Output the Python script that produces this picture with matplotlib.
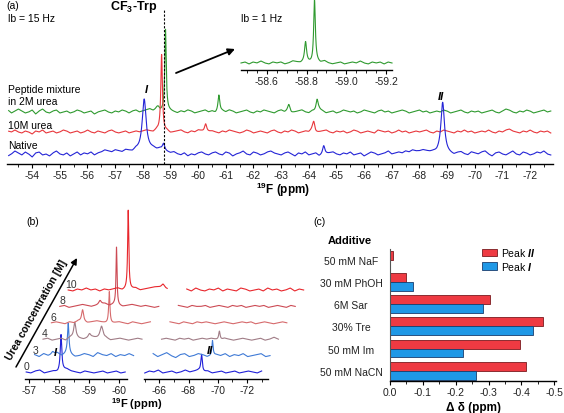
import numpy as np
import matplotlib
matplotlib.use('Agg')
import matplotlib.pyplot as plt
import matplotlib.transforms as mtransforms
from matplotlib.ticker import MultipleLocator

plt.rcParams['font.family'] = ['Liberation Sans', 'DejaVu Sans']
plt.rcParams['mathtext.fontset'] = 'custom'
plt.rcParams['mathtext.rm'] = 'Liberation Sans'
plt.rcParams['mathtext.bf'] = 'Liberation Sans:bold'
plt.rcParams['mathtext.it'] = 'Liberation Sans:italic:bold'
plt.rcParams['axes.unicode_minus'] = False

# ---------------- data: panel (a) ----------------
# baseline noise sampled every 0.125 ppm from -53.0 to -73.0 ppm
green_noise = [0, 2, -1, 1, 3, 1, -1, 0, 2, -2, 1, 3, 0, -1, 1, 2, -1, 0, 1, -1,
               0, 2, 1, -1, 0, 1, -2, 0, 1, 2, 0, -1, 1, 0, 2, 1, -1, 1, 2, 0,
               1, 2, 3, 1, 2, 0, 1, 2, 1, 0, -1, 1, 0, 2, 1, -1, 0, 1, 2, 0,
               1, -1, 0, 1, 0, 2, 1, -1, 0, 1, 2, 0, -1, 1, 0, 2, 1, 0, -1, 1,
               2, 0, 1, -1, 0, 1, 2, 0, -1, 1, 0, 2, 1, -1, 0, 1, -1, 0, 2, 1,
               0, 1, -1, 0, 2, 1, 0, -1, 1, 2, 0, 1, -1, 0, 1, 2, 1, -1, 0, 1,
               2, 0, 1, -1, 0, 1, 0, 2, 1, -1, 0, 1, 2, 0, -1, 1, 0, 1, -1, 0,
               1, 2, 0, -1, 1, 3, 2, 0, -1, 1, 0, 2, 1, -1, 0, 1, 2, 0, 1, -1,
               0]
red_noise = [-1, 1, 0, 2, 0, -1, 1, 0, -2, 1, 0, 2, -1, 0, 1, -1, 0, 2, 1, -1,
             0, 1, -1, 0, 2, 0, -1, 1, 0, -1, 1, 2, 0, -1, 0, 1, -1, 0, 1, 0,
             1, 2, 1, 0, 2, 1, 0, 1, -1, 0, 1, 2, 0, -1, 1, 0, 2, 1, -1, 0,
             1, 0, -1, 1, 0, 2, 1, 0, -1, 0, 2, 1, -1, 0, 1, 0, -1, 1, 2, 0,
             -1, 1, 0, 2, 1, -1, 0, 1, 0, 2, -1, 0, 1, 2, 0, -1, 1, 0, 1, -1,
             0, 2, 1, -1, 0, 1, 0, -1, 2, 1, 0, 1, -1, 0, 2, 0, 1, -1, 0, 1,
             0, 1, 2, 0, -1, 1, 0, 2, 1, 0, -1, 1, 0, 2, 0, 1, -1, 0, 1, 0,
             2, 0, -1, 1, 0, 2, 3, 1, 0, -1, 1, 0, 2, 0, -1, 1, 0, 1, -1, 0,
             0]
blue_noise = [1, -2, 0, 3, 1, -1, 2, 0, -3, 1, 2, -1, 0, -2, 1, 3, 0, -1, 1, -2,
              0, 2, -1, 1, 0, 2, -1, 1, 2, 4, 3, 2, 4, 3, 2, 4, 3, 2, 4, 3,
              3, 3, 4, 5, 4, 5, 3, 2, 1, 2, 0, -1, 1, -2, 0, -1, 1, 2, 0, -1,
              1, 2, 0, -1, 2, 1, -2, 0, 1, 3, 0, -1, 2, 1, -1, 0, 2, 3, 1, 0,
              -1, 1, 2, 0, -2, 1, 0, 2, -1, 0, 1, -2, -1, 0, 1, 2, 0, -1, 1, 0,
              2, -1, 0, 1, -2, 0, 2, 1, -1, 0, 1, 3, 0, 1, 2, 1, 3, 2, 4, 3,
              3, 4, 3, 2, 2, 1, 2, 3, 1, 0, -1, 1, 2, 0, -1, 2, 1, 0, 2, 3,
              0, -2, 1, 2, 0, -1, 1, 3, 0, -1, 2, 1, -1, 0, 2, 1, 3, 0, -1, 1,
              0]
# peaks: (ppm, height, fwhm)
green_peaks = [(-58.82, 81, 0.06), (-58.55, 4, 0.15), (-60.75, 17, 0.08),
               (-63.28, 7, 0.1), (-64.3, 12, 0.1)]
red_peaks = [(-58.68, 77, 0.07), (-60.27, 9, 0.1), (-64.18, 10, 0.1)]
blue_peaks = [(-58.05, 52, 0.17), (-58.75, 7, 0.1), (-64.54, 9, 0.1),
              (-68.84, 49, 0.15)]

# inset (lb = 1 Hz), noise every 0.02 ppm from -58.47 to -59.23
inset_noise = [0, 1, -1, 1, 0, 2, 0, -1, 1, 0, 1, -1, 0, 2, 1, 0, 1, 0, -1, 1,
               0, 2, 0, -1, 0, 1, -1, 0, 1, 0, 2, 0, -1, 1, 0, 1, -1, 1, 0]
inset_peaks = [(-58.795, 20, 0.012), (-58.84, 63, 0.01)]

# ---------------- data: panel (b) ----------------
conc_labels = ['0', '3', '4', '6', '8', '10']
# left segment noise (-56.9 .. -60.2 ppm), right segment noise (-65 .. -73 ppm)
t0_left = [0, -1, 1, 2, -1, 0, 1, 0, 2, 3, 1, 0, -1, 1, 0, -1, 0, 1, -1, 0, 1, -1, 0]
t0_right = [-1, 1, 0, 2, -1, 0, 1, -1, 0, 2, 0, 1, 2, 0, 1, -1, 0, 1, -1, 0, 1, -1, 0, 1, 0, -1, 1]
t3_left = [1, -1, 2, 0, 1, 3, 0, 2, 1, -1, 0, 2, 1, -1, 3, 1, 0, 2, -1, 1, 0, 2, 0]
t3_right = [2, -1, 1, 3, 0, -2, 1, 2, -1, 0, 2, 1, -1, 0, 1, 0, 2, -1, 1, 0, 2, -1, 0, 1, 2, -1, 0]
t4_left = [0, 1, -1, 0, 1, -1, 2, 3, 1, 0, 1, 2, 1, 0, 1, -1, 0, 1, 0, -1, 0, 1, 0]
t4_right = [0, 1, 0, -1, 1, 0, 1, -1, 0, 1, 0, 1, 0, -1, 1, 0, -1, 0, 1, 0, -1, 0, 1, -1, 0, 2, 0]
t6_left = [0, 1, 0, -1, 1, 0, 2, 1, 0, 1, 2, 1, 0, -1, 0, 1, 0, -1, 1, 0, -1, 0, 1]
t6_right = [1, 0, -1, 1, 0, -1, 1, 0, 1, 0, -1, 0, 1, 0, -1, 0, 1, 0, 1, -1, 0, 1, 0, -1, 0, 1, 0]
t8_left = [0, 1, -1, 0, 1, 2, 1, 0, 1, 2, 3, 1, 2, 1, 0, 1, 2, 1, 0, 1, 0, -1, 0]
t8_right = [1, 0, -1, 1, 0, 0, 1, -1, 0, 1, 0, -1, 1, 0, 1, -1, 0, 1, 0, 1, -1, 0, 1, 0, -1, 1, 0]
t10_left = [0, -1, 1, 0, 2, 0, 1, -1, 1, 0, 1, 2, 0, 1, 1, 2, 0, 1, 2, 3, 3, 2, 1]
t10_right = [1, -1, 2, 0, -1, 1, 0, 2, -1, 1, 0, -1, 2, 1, -1, 0, 1, -1, 2, 0, 1, -1, 0, 2, -1, 1, 0]
t0_lp = [(-58.06, 36, 0.06)]
t0_rp = [(-68.89, 17, 0.12)]
t3_lp = [(-58.02, 31, 0.06), (-57.5, 3, 0.1)]
t3_rp = [(-69.06, 15, 0.1)]
t4_lp = [(-57.96, 14, 0.08), (-58.85, 13, 0.12), (-58.45, 4, 0.1)]
t4_rp = [(-68.96, 9, 0.12)]
t6_lp = [(-57.94, 12, 0.08), (-58.83, 32, 0.05)]
t6_rp = []
t8_lp = [(-58.24, 4, 0.1), (-58.79, 58, 0.04)]
t8_rp = []
t10_lp = [(-58.9, 79, 0.045), (-60.06, 4, 0.12)]
t10_rp = []

# ---------------- data: panel (c) ----------------
additives = ['50 mM NaF', '30 mM PhOH', '6M Sar', '30% Tre', '50 mM Im', '50 mM NaCN']
peak_II = [-0.008, -0.049, -0.303, -0.465, -0.394, -0.413]
peak_I = [0.0, -0.069, -0.283, -0.435, -0.222, -0.262]

# ---------------- helpers ----------------
W, H = 564, 414
fig = plt.figure(figsize=(W / 100, H / 100), dpi=100)


def rect(x0, y0, x1, y1):
    return [x0 / W, 1 - y1 / H, (x1 - x0) / W, (y1 - y0) / H]


def ftext(x, y, s, **kw):
    kw.setdefault('va', 'center')
    kw.setdefault('fontsize', 7.5)
    return fig.text(x / W, 1 - y / H, s, **kw)


def spectrum(start, end, noise, peaks, n=1500):
    coarse = np.linspace(start, end, len(noise))
    fine = np.linspace(start, end, n)
    y = np.interp(-fine, -coarse, np.asarray(noise, float))
    for p, h, w in peaks:
        g = (w / 2) ** 2
        y = y + h * g / ((fine - p) ** 2 + g)
    return fine, y


def style_axis(ax):
    for s in ['top', 'right', 'left']:
        ax.spines[s].set_visible(False)
    ax.spines['bottom'].set_linewidth(1.0)
    ax.set_yticks([])
    ax.tick_params(axis='x', which='major', length=3, width=0.8, pad=1.5,
                   labelsize=7.5, labelcolor='#222222')
    ax.tick_params(axis='x', which='minor', length=2, width=0.6)
    ax.patch.set_visible(False)


lw = 0.8
GREEN, RED, BLUE = '#2f9a2f', '#e8373c', '#2424d6'

# ---------------- panel (a) ----------------
axA = fig.add_axes(rect(7, 25, 553, 165))
axA.set_xlim(-53.09, -72.83)
axA.set_ylim(0, 140)
style_axis(axA)
ticks = list(range(-54, -73, -1))
axA.set_xticks(ticks, [str(t) for t in ticks])
axA.xaxis.set_minor_locator(MultipleLocator(0.5))
for noise, peaks, base, col in [(green_noise, green_peaks, 52, GREEN),
                                (red_noise, red_peaks, 32, RED),
                                (blue_noise, blue_peaks, 10, BLUE)]:
    x, y = spectrum(-53.0, -73.0, noise, peaks, n=6000)
    m = (x <= -53.15) & (x >= -72.75)
    axA.plot(x[m], y[m] + base, color=col, lw=lw, clip_on=False)
axA.plot([-58.75, -58.75], [0, 155], ls=(0, (2, 1.5)), color='k', lw=0.8,
         clip_on=False)

ftext(13, 6, '(a)', ha='center')
ftext(8, 19, 'lb = 15 Hz', ha='left')
ftext(134, 7, r'CF$_\mathbf{3}$-Trp', ha='center', fontweight='bold', fontsize=9)
ftext(241, 19, 'lb = 1 Hz', ha='left')
ftext(8, 90, 'Peptide mixture', ha='left')
ftext(8, 102, 'in 2M urea', ha='left')
ftext(8, 126, '10M urea', ha='left')
ftext(8, 146, 'Native', ha='left')
ftext(146, 90, 'I', ha='center', fontweight='bold', fontstyle='italic', fontsize=8)
ftext(441, 97, 'II', ha='center', fontweight='bold', fontstyle='italic', fontsize=8)
ftext(283, 190, r'$^\mathbf{19}$F (ppm)', ha='center', fontweight='bold', fontsize=8.5)

axA.annotate('', xy=(235 / W, 1 - 50 / H), xytext=(176 / W, 1 - 74 / H),
             xycoords='figure fraction', textcoords='figure fraction',
             arrowprops=dict(arrowstyle='-|>', color='k', lw=1.3,
                             mutation_scale=10, shrinkA=0, shrinkB=0),
             annotation_clip=False)

# inset
axI = fig.add_axes(rect(241, 0, 392, 71))
axI.set_xlim(-58.47, -59.23)
axI.set_ylim(0, 71)
style_axis(axI)
axI.set_xticks([-58.6, -58.8, -59.0, -59.2], ['-58.6', '-58.8', '-59.0', '-59.2'])
axI.xaxis.set_minor_locator(MultipleLocator(0.05))
x, y = spectrum(-58.47, -59.23, inset_noise, inset_peaks, n=3000)
axI.plot(x, y + 7, color=GREEN, lw=lw, clip_on=False)

# ---------------- panel (b) ----------------
axBL = fig.add_axes(rect(25, 200, 127, 380))
axBR = fig.add_axes(rect(144, 200, 267.5, 380))
axBL.set_xlim(-56.86, -60.26)
axBR.set_xlim(-64.95, -73.4)
for ax in (axBL, axBR):
    ax.set_ylim(0, 180)
    style_axis(ax)
axBL.set_xticks([-57, -58, -59, -60], ['-57', '-58', '-59', '-60'])
axBL.xaxis.set_minor_locator(MultipleLocator(0.5))
axBR.set_xticks([-66, -68, -70, -72], ['-66', '-68', '-70', '-72'])
axBR.xaxis.set_minor_locator(MultipleLocator(1))

b_colors = ['#2020d8', '#3f7ad6', '#a07c86', '#d66a6c', '#cc4a54', '#e8262c']
lefts = [t0_left, t3_left, t4_left, t6_left, t8_left, t10_left]
rights = [t0_right, t3_right, t4_right, t6_right, t8_right, t10_right]
lpeaks = [t0_lp, t3_lp, t4_lp, t6_lp, t8_lp, t10_lp]
rpeaks = [t0_rp, t3_rp, t4_rp, t6_rp, t8_rp, t10_rp]
for k in range(len(conc_labels)):
    off = mtransforms.ScaledTranslation(k * 8.4 / 100, k * 16.4 / 100,
                                        fig.dpi_scale_trans)
    x, y = spectrum(-56.9, -60.2, lefts[k], lpeaks[k], n=1500)
    axBL.plot(x, y + 7, color=b_colors[k], lw=lw, clip_on=False,
              transform=axBL.transData + off)
    x, y = spectrum(-65.0, -73.0, rights[k], rpeaks[k], n=2500)
    axBR.plot(x, y + 7, color=b_colors[k], lw=lw, clip_on=False,
              transform=axBR.transData + off)
    ftext(27 + k * 8.9, 367 - k * 16.4, conc_labels[k], ha='center',
          color='#333333')

ftext(33, 222, '(b)', ha='center')
ftext(55, 353, 'I', ha='center', fontweight='bold', fontstyle='italic', fontsize=8)
ftext(210, 351, 'II', ha='center', fontweight='bold', fontstyle='italic', fontsize=8)
ftext(137, 404, r'$^\mathbf{19}$F (ppm)', ha='center', fontweight='bold', fontsize=8)
axBL.annotate('', xy=(77 / W, 1 - 259 / H), xytext=(16 / W, 1 - 368 / H),
              xycoords='figure fraction', textcoords='figure fraction',
              arrowprops=dict(arrowstyle='-|>', color='k', lw=1.1,
                              mutation_scale=9, shrinkA=0, shrinkB=0),
              annotation_clip=False)
ftext(37, 310, 'Urea concentration [M]', ha='center', fontweight='bold',
      rotation=60.5, rotation_mode='anchor', fontsize=7.5)

# ---------------- panel (c) ----------------
axC = fig.add_axes(rect(390, 249.6, 556, 381.7))
pos = np.arange(len(additives))
bh = 0.405
axC.barh(pos - bh / 2, peak_II, height=bh, color='#ee3a42', edgecolor='#7a1a1e',
         linewidth=0.6, label=r'Peak $\mathit{II}$')
axC.barh(pos + bh / 2, peak_I, height=bh, color='#1f98e6', edgecolor='#1a3d6e',
         linewidth=0.6, label=r'Peak $\mathit{I}$')
axC.set_ylim(5.45, -0.5)
axC.set_xlim(0, -0.505)
for s in ['top', 'right']:
    axC.spines[s].set_visible(False)
axC.spines['left'].set_linewidth(0.8)
axC.spines['left'].set_color('#555555')
axC.spines['bottom'].set_linewidth(1.0)
axC.set_xticks([0, -0.1, -0.2, -0.3, -0.4, -0.5],
               ['0.0', '-0.1', '-0.2', '-0.3', '-0.4', '-0.5'])
axC.xaxis.set_minor_locator(MultipleLocator(0.05))
axC.tick_params(axis='x', which='major', length=3, width=0.8, pad=1.5,
                labelsize=7.5, labelcolor='#222222')
axC.tick_params(axis='x', which='minor', length=2, width=0.6)
axC.set_yticks(pos, additives)
axC.tick_params(axis='y', length=0, pad=28, labelsize=7.5, labelcolor='#222222')
for lbl in axC.get_yticklabels():
    lbl.set_ha('center')
axC.patch.set_visible(False)
axC.legend(loc='upper left', bbox_to_anchor=(482 / W, 1 - 247 / H),
           bbox_transform=fig.transFigure, frameon=False, fontsize=7.5,
           handlelength=1.4, handleheight=0.75, handletextpad=0.4,
           labelspacing=0.15, borderpad=0, borderaxespad=0)

ftext(320, 222, '(c)', ha='center')
ftext(350, 241, 'Additive', ha='center', fontweight='bold', fontsize=8)
ftext(473, 408, 'Δ δ (ppm)', ha='center', fontweight='bold', fontsize=8.5)

fig.savefig('out.png', dpi=100)
